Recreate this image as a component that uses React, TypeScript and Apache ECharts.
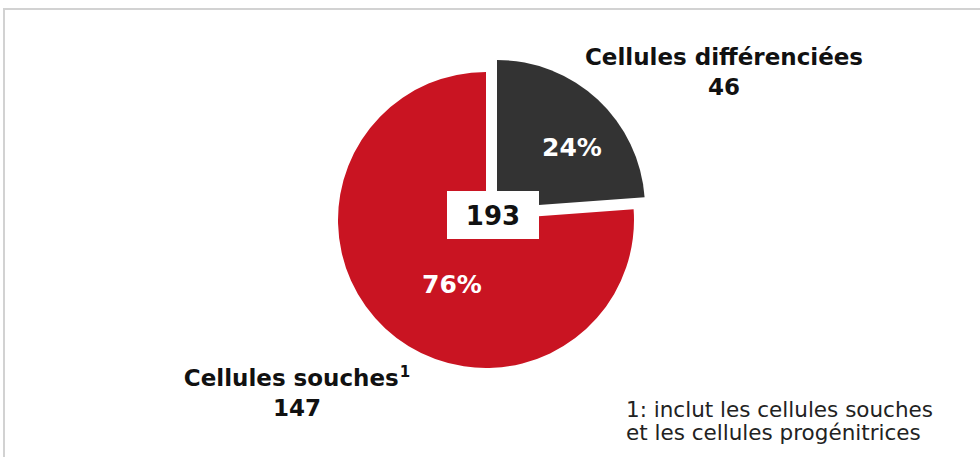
import React, { useEffect, useRef } from "react";
import * as echarts from "echarts";

const categories = ["Cellules différenciées", "Cellules souches"];
const values = [46, 147];
const footnoteMarks = ["", "1"];
const sliceColors = ["#333333", "#C91422"];
const footnoteLines = ["1: inclut les cellules souches", "et les cellules progénitrices"];

const FONT = "'DejaVu Sans', Verdana, sans-serif";

export default function App() {
  const ref = useRef<HTMLDivElement>(null);
  useEffect(() => {
    if (!ref.current) return;
    const chart = echarts.init(ref.current, null, { renderer: "svg" });
    const total = values.reduce((a, b) => a + b, 0);
    // centre of the exploded slice and of the rest of the pie
    const pieCenters = [
      [497, 208],
      [486, 220],
    ];
    const pctPos = [
      [572, 147],
      [452, 284],
    ];
    const namePos = [
      [724, 72],
      [297, 393],
    ];
    const RADIUS = 148;

    // one series per slice so that the exploded slice has its own centre
    const sliceSeries = categories.map((_, k) => ({
      type: "pie",
      center: pieCenters[k],
      radius: [0, RADIUS],
      startAngle: 90,
      clockwise: true,
      silent: true,
      z: 2,
      itemStyle: { borderWidth: 0 },
      labelLine: { show: false },
      label: {
        show: true,
        position: "inside",
        formatter: (p: any) => `${Math.round(p.percent)}%`,
        color: "#ffffff",
        fontFamily: FONT,
        fontWeight: "bold",
        fontSize: 25,
      },
      labelLayout: (p: any) => ({
        x: pctPos[p.dataIndex][0],
        y: pctPos[p.dataIndex][1],
        align: "center",
        verticalAlign: "middle",
      }),
      data: categories.map((c, i) => ({
        name: c,
        value: values[i],
        itemStyle: { color: i === k ? sliceColors[i] : "rgba(0,0,0,0)" },
        label: { show: i === k },
      })),
    }));

    const nameSeries = {
      type: "pie",
      center: pieCenters[1],
      radius: [0, RADIUS],
      startAngle: 90,
      clockwise: true,
      silent: true,
      z: 3,
      itemStyle: { color: "rgba(0,0,0,0)", borderWidth: 0 },
      labelLine: { show: false },
      label: {
        show: true,
        position: "outside",
        formatter: (p: any) => {
          const mark = footnoteMarks[p.dataIndex];
          return `{n|${p.name}}${mark ? `{s|${mark}}` : ""}\n{n|${p.value}}`;
        },
        color: "#111",
        fontFamily: FONT,
        fontWeight: "bold",
        fontSize: 23,
        lineHeight: 30,
        align: "center",
        rich: {
          n: {
            color: "#111",
            fontFamily: FONT,
            fontWeight: "bold",
            fontSize: 23,
            lineHeight: 30,
          },
          s: {
            color: "#111",
            fontFamily: FONT,
            fontWeight: "bold",
            fontSize: 15,
            lineHeight: 30,
            padding: [0, 0, 12, 1],
          },
        },
      },
      labelLayout: (p: any) => ({
        x: namePos[p.dataIndex][0],
        y: namePos[p.dataIndex][1],
        align: "center",
        verticalAlign: "middle",
      }),
      data: categories.map((c, i) => ({ name: c, value: values[i] })),
    };

    chart.setOption({
      animation: false,
      graphic: [
        {
          type: "rect",
          shape: { x: 4, y: 9, width: 1100, height: 600 },
          style: { fill: "none", stroke: "#d2d2d2", lineWidth: 2 },
          z: 0,
        },
        {
          type: "group",
          z: 100,
          children: [
            {
              type: "rect",
              shape: { x: 447, y: 191, width: 92, height: 48 },
              style: { fill: "#ffffff" },
              z: 100,
            },
            {
              type: "text",
              x: 493,
              y: 216,
              z: 101,
              style: {
                text: String(total),
                fill: "#111",
                font: `bold 26px ${FONT}`,
                align: "center",
                verticalAlign: "middle",
              },
            },
          ],
        },
        {
          type: "text",
          left: 626,
          top: 398,
          z: 100,
          style: {
            text: footnoteLines.join("\n"),
            fill: "#222",
            font: `21.5px ${FONT}`,
            lineHeight: 23,
          },
        },
      ],
      series: [...sliceSeries, nameSeries],
    });
    return () => chart.dispose();
  }, []);
  return (
    <div
      ref={ref}
      style={{ position: "absolute", left: 0, top: 0, width: 980, height: 457, background: "#fff" }}
    />
  );
}
